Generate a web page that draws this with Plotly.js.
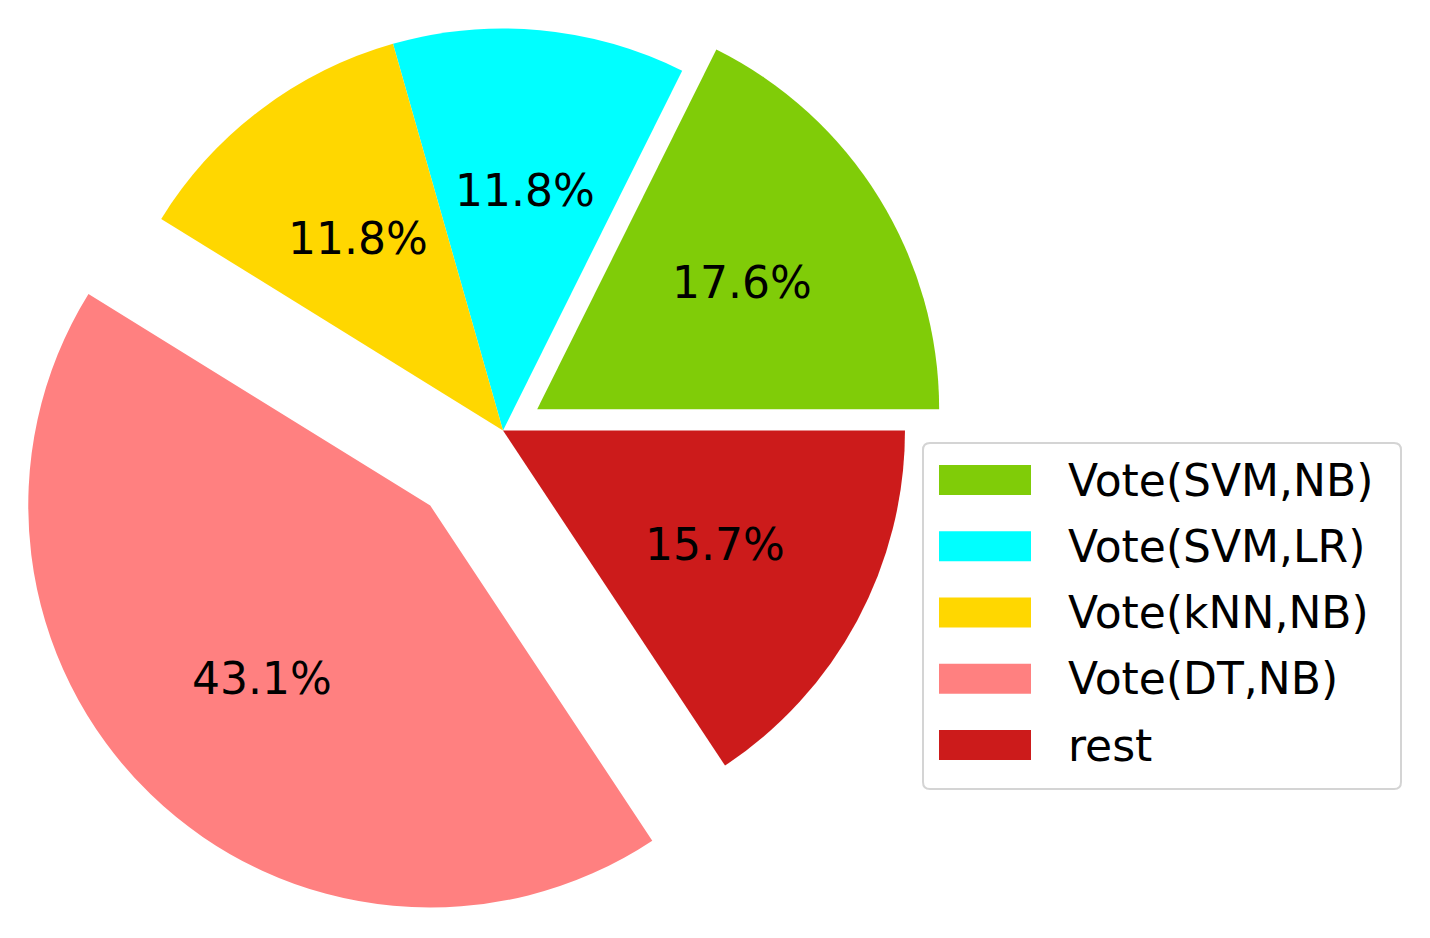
<!DOCTYPE html>
<html>
<head>
<meta charset="utf-8">
<script src="https://cdn.plot.ly/plotly-3.0.1.min.js"></script>
<style>
html, body { margin: 0; padding: 0; overflow: hidden; background: #fff; width: 1430px; height: 938px; }
#chart { position: absolute; left: -10px; top: -76px; width: 1440px; height: 1013px; }
</style>
</head>
<body>
<div id="chart"></div>
<script>
// slice data
const labels = ['Vote(SVM,NB)', 'Vote(SVM,LR)', 'Vote(kNN,NB)', 'Vote(DT,NB)', 'rest'];
const counts = [9, 6, 6, 22, 8];
const colors = ['#80cc08', '#00ffff', '#ffd700', '#ff8080', '#cc1b1b'];
const explode = [0.1, 0, 0, 0.26, 0];

const W = 1440, H = 1013;   // size of the plot div
const offX = 10, offY = 76;  // div is shifted up/left by this much
const pieBox = 1026;         // width of the pie domain (px)
const maxPull = Math.max(...explode);
const cx = pieBox / 2, cy = H / 2;
const r = Math.min(pieBox, H) / 2 / (1 + maxPull);

// pixel (in div) -> paper
const px = x => x / W;
const py = y => 1 - y / H;
// window pixel -> paper
const wx = x => px(x + offX);
const wy = y => py(y + offY);

const font = 'DejaVu Sans, Verdana, sans-serif';

// percentage labels at 0.6 r from each (pulled) slice centre
const total = counts.reduce((a, b) => a + b, 0);
const annotations = [];
let acc = 0;
counts.forEach((c, i) => {
    const mid = 2 * Math.PI * (acc + c / 2) / total;
    acc += c;
    const d = (explode[i] + 0.6) * r;
    annotations.push({
        xref: 'paper', yref: 'paper',
        x: px(cx + d * Math.cos(mid)), y: py(cy - d * Math.sin(mid)),
        text: (100 * c / total).toFixed(1) + '%',
        showarrow: false, xanchor: 'center', yanchor: 'middle',
        font: {family: font, size: 44, color: '#000'}
    });
});

// legend box with rounded corners
const shapes = [];
const bx0 = 923, by0 = 443, bx1 = 1401, by1 = 789, rad = 7;
const P = (x, y) => wx(x) + ',' + wy(y);
shapes.push({
    type: 'path', xref: 'paper', yref: 'paper',
    path: 'M' + P(bx0 + rad, by0) + ' L' + P(bx1 - rad, by0) + ' Q' + P(bx1, by0) + ' ' + P(bx1, by0 + rad) +
          ' L' + P(bx1, by1 - rad) + ' Q' + P(bx1, by1) + ' ' + P(bx1 - rad, by1) +
          ' L' + P(bx0 + rad, by1) + ' Q' + P(bx0, by1) + ' ' + P(bx0, by1 - rad) +
          ' L' + P(bx0, by0 + rad) + ' Q' + P(bx0, by0) + ' ' + P(bx0 + rad, by0) + ' Z',
    fillcolor: '#ffffff', line: {color: '#d4d4d4', width: 2}
});

// legend entries
labels.forEach((lab, i) => {
    const yc = 480 + i * 66.25;
    shapes.push({
        type: 'rect', xref: 'paper', yref: 'paper',
        x0: wx(939), x1: wx(1031), y0: wy(yc - 15), y1: wy(yc + 15),
        fillcolor: colors[i], line: {width: 0}
    });
    annotations.push({
        xref: 'paper', yref: 'paper', x: wx(1066), y: wy(yc),
        text: lab, showarrow: false, xanchor: 'left', yanchor: 'middle',
        font: {family: font, size: 44, color: '#000'}
    });
});

// plotly's counterclockwise pies end the first slice at `rotation`,
// so back it off by the first slice to start it at 3 o'clock
const rotation = 90 - 360 * counts[0] / total;

const trace = {
    type: 'pie',
    labels: labels,
    values: counts,
    sort: false,
    direction: 'counterclockwise',
    rotation: rotation,
    pull: explode,
    marker: {colors: colors, line: {width: 0}},
    textinfo: 'none',
    hoverinfo: 'label+percent',
    domain: {x: [0, pieBox / W], y: [0, 1]}
};

const layout = {
    width: W,
    height: H,
    margin: {l: 0, r: 0, t: 0, b: 0},
    showlegend: false,
    paper_bgcolor: '#fff',
    annotations: annotations,
    shapes: shapes
};

Plotly.newPlot('chart', [trace], layout, {displayModeBar: false, staticPlot: true});
</script>
</body>
</html>
